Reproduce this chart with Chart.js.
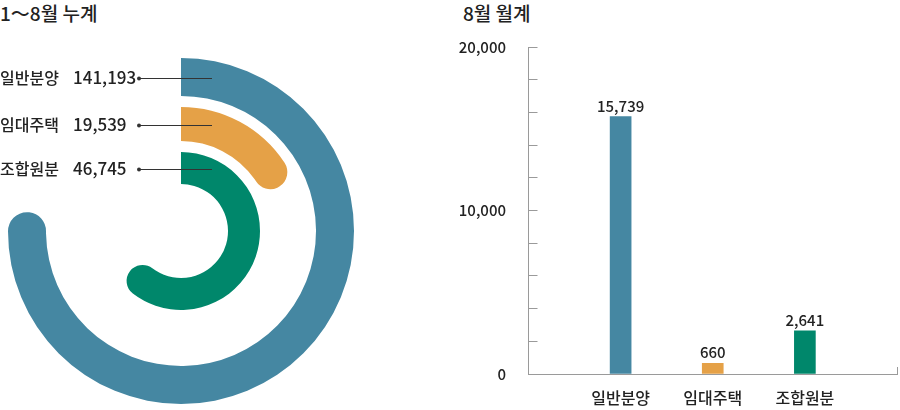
<!DOCTYPE html>
<html>
<head>
<meta charset="utf-8">
<script src="https://cdn.jsdelivr.net/npm/chart.js@4/dist/chart.umd.min.js"></script>
<style>
  body { margin: 0; background: #fff; }
  #wrap { position: relative; width: 900px; height: 410px; overflow: hidden; }
  .title { position: absolute; top: 0; font-family: "Noto Sans CJK KR", "Noto Sans", sans-serif;
           font-size: 19px; font-weight: 500; line-height: 26px; color: #222; white-space: nowrap; }
  .box { position: absolute; top: 0; height: 410px; }
</style>
</head>
<body>
<div id="wrap">
  <div class="title" style="left:0">1～8월 누계</div>
  <div class="title" style="left:463px">8월 월계</div>
  <div class="box" style="left:0; width:440px"><canvas id="ring"></canvas></div>
  <div class="box" style="left:450px; width:450px"><canvas id="bars"></canvas></div>
</div>
<script>
// 1~8월 누계
var categories = ['일반분양', '임대주택', '조합원분'];
var ytdValues = [141193, 19539, 46745];
// full-circle value of each ring, estimated from the arc lengths in the picture
var ringScale = [183500, 107000, 72500];

// 8월 월계
var monthValues = [15739, 660, 2641];
var yTicksShown = [0, 10000, 20000];

var colors = ['#4587a2', '#e5a147', '#00876b'];
var FONT = '"Noto Sans CJK KR", "Noto Sans", sans-serif';
var TEXT = '#222';
var AXIS = '#9a9a9a';

Chart.defaults.font.family = FONT;
Chart.defaults.color = TEXT;
Chart.defaults.animation = false;

function fmt(v) { return v.toLocaleString('en-US'); }

// ---- left: concentric rings ----
var ringWeights = [38, 34, 32];
var gapWeight = 11;
var ringSets = [];
var mainIdx = [];
categories.forEach(function (c, i) {
  if (i > 0) {
    ringSets.push({ data: [1], backgroundColor: ['rgba(0,0,0,0)'], weight: gapWeight, borderWidth: 0 });
  }
  mainIdx.push(ringSets.length);
  ringSets.push({
    label: c,
    data: [ytdValues[i], ringScale[i] - ytdValues[i]],
    backgroundColor: [colors[i], 'rgba(0,0,0,0)'],
    weight: ringWeights[i],
    borderWidth: 0,
    borderRadius: function (ctx) {
      var r = ringWeights[i] / 2;
      return ctx.dataIndex === 0 ? { outerStart: 0, innerStart: 0, outerEnd: r, innerEnd: r } : 0;
    }
  });
});

var ringLabels = {
  id: 'ringLabels',
  afterDraw: function (chart) {
    var ctx = chart.ctx;
    ctx.save();
    mainIdx.forEach(function (di, i) {
      var arc = chart.getDatasetMeta(di).data[0];
      var p = arc.getProps(['x', 'y', 'innerRadius', 'outerRadius'], true);
      var y = p.y - (p.innerRadius + p.outerRadius) / 2 + 1;
      ctx.fillStyle = TEXT;
      ctx.textBaseline = 'middle';
      ctx.textAlign = 'left';
      ctx.font = '500 16px ' + FONT;
      ctx.fillText(categories[i], 0, y);
      ctx.font = '500 17px ' + FONT;
      ctx.fillText(fmt(ytdValues[i]), 73, y);
      ctx.strokeStyle = '#333';
      ctx.lineWidth = 1;
      ctx.beginPath();
      ctx.moveTo(138, y + 0.5);
      ctx.lineTo(p.x + 31, y + 0.5);
      ctx.stroke();
      ctx.beginPath();
      ctx.arc(139, y + 0.5, 2, 0, Math.PI * 2);
      ctx.fillStyle = '#333';
      ctx.fill();
    });
    ctx.restore();
  }
};

new Chart(document.getElementById('ring'), {
  type: 'doughnut',
  data: { labels: ['v', 'rest'], datasets: ringSets },
  options: {
    responsive: true,
    maintainAspectRatio: false,
    cutout: 47,
    rotation: 0,
    circumference: 360,
    layout: { padding: { left: 8, top: 58, right: 86, bottom: 6 } },
    elements: { arc: { offset: 0, hoverOffset: 0 } },
    events: [],
    plugins: { legend: { display: false }, tooltip: { enabled: false } }
  },
  plugins: [ringLabels]
});

// ---- right: bar chart ----
var barLabels = [''].concat(categories, ['']);
var barData = [null].concat(monthValues, [null]);

var valueLabels = {
  id: 'valueLabels',
  afterDatasetsDraw: function (chart) {
    var ctx = chart.ctx;
    var meta = chart.getDatasetMeta(0);
    ctx.save();
    ctx.font = '500 15px ' + FONT;
    ctx.fillStyle = TEXT;
    ctx.textAlign = 'center';
    ctx.textBaseline = 'alphabetic';
    meta.data.forEach(function (el, i) {
      var v = barData[i];
      if (v === null) return;
      ctx.fillText(fmt(v), el.x, el.y - 5);
    });
    ctx.restore();
  }
};

new Chart(document.getElementById('bars'), {
  type: 'bar',
  data: {
    labels: barLabels,
    datasets: [{
      data: barData,
      backgroundColor: [null].concat(colors, [null]),
      barThickness: 21,
      borderWidth: 0
    }]
  },
  options: {
    responsive: true,
    maintainAspectRatio: false,
    layout: { padding: { left: 0, top: 47, right: 3, bottom: 0 } },
    events: [],
    plugins: { legend: { display: false }, tooltip: { enabled: false } },
    scales: {
      x: {
        offset: false,
        border: { color: AXIS, width: 1 },
        grid: {
          offset: false,
          drawOnChartArea: false,
          tickLength: -7,
          color: function (ctx) { return ctx.index === barLabels.length - 1 ? AXIS : 'rgba(0,0,0,0)'; }
        },
        ticks: { padding: 21, font: { size: 16, weight: 500 }, color: TEXT, maxRotation: 0, autoSkip: false },
        afterFit: function (s) { s.height = 36; s.paddingLeft = 0; s.paddingRight = 0; }
      },
      y: {
        min: 0,
        max: 20000,
        border: { color: AXIS, width: 1 },
        grid: { drawOnChartArea: false, tickLength: -9, color: AXIS },
        ticks: {
          stepSize: 2000,
          padding: 31.5,
          font: { size: 15, weight: 500 },
          color: TEXT,
          callback: function (v) { return yTicksShown.indexOf(v) >= 0 ? fmt(v) : ''; }
        },
        afterFit: function (s) { s.width = 78.5; s.paddingTop = 0; s.paddingBottom = 0; }
      }
    }
  },
  plugins: [valueLabels]
});
</script>
</body>
</html>
